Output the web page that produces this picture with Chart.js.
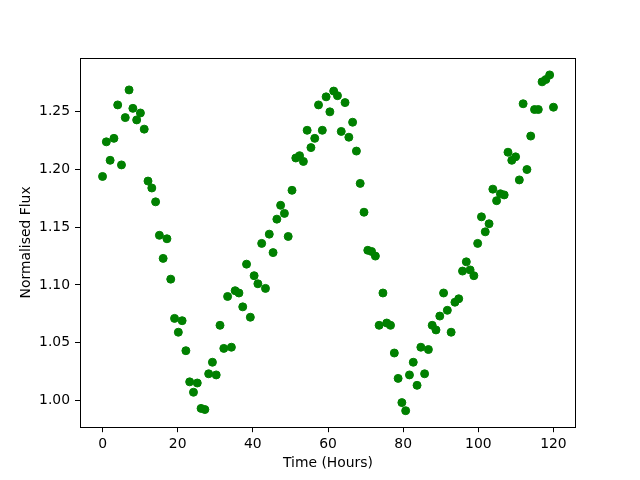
<!DOCTYPE html>
<html>
<head>
<meta charset="utf-8">
<script src="https://cdn.jsdelivr.net/npm/chart.js@4/dist/chart.umd.min.js"></script>
<style>
    body { margin: 0; background: #fff; }
    #myChart { display: block; }
</style>
</head>
<body>
<canvas id="myChart" width="640" height="480"></canvas>
<script>

// time of each observation (hours)
const hours = [
    0, 1.01, 2.02, 3.03, 4.03, 5.04, 6.05, 7.06, 8.07, 9.08,
    10.08, 11.09, 12.10, 13.11, 14.12, 15.13, 16.13, 17.14, 18.15, 19.16,
    20.17, 21.18, 22.18, 23.19, 24.20, 25.21, 26.22, 27.23, 28.24, 29.24,
    30.25, 31.26, 32.27, 33.28, 34.29, 35.29, 36.30, 37.31, 38.32, 39.33,
    40.34, 41.34, 42.35, 43.36, 44.37, 45.38, 46.39, 47.39, 48.40, 49.41,
    50.42, 51.43, 52.44, 53.45, 54.45, 55.46, 56.47, 57.48, 58.49, 59.50,
    60.50, 61.51, 62.52, 63.53, 64.54, 65.55, 66.55, 67.56, 68.57, 69.58,
    70.59, 71.60, 72.61, 73.61, 74.62, 75.63, 76.64, 77.65, 78.66, 79.66,
    80.67, 81.68, 82.69, 83.70, 84.71, 85.71, 86.72, 87.73, 88.74, 89.75,
    90.76, 91.76, 92.77, 93.78, 94.79, 95.80, 96.81, 97.82, 98.82, 99.83,
    100.84, 101.85, 102.86, 103.87, 104.87, 105.88, 106.89, 107.90, 108.91, 109.92,
    110.92, 111.93, 112.94, 113.95, 114.96, 115.97, 116.97, 117.98, 118.99, 120.00
];

// normalised flux readings
const flux = [
    1.194, 1.224, 1.208, 1.227, 1.256, 1.204, 1.245, 1.269, 1.253, 1.243,
    1.249, 1.235, 1.190, 1.184, 1.172, 1.143, 1.123, 1.140, 1.105, 1.071,
    1.059, 1.069, 1.043, 1.016, 1.007, 1.015, 0.993, 0.992, 1.023, 1.033,
    1.022, 1.065, 1.045, 1.090, 1.046, 1.095, 1.093, 1.081, 1.118, 1.072,
    1.108, 1.101, 1.136, 1.097, 1.144, 1.128, 1.157, 1.169, 1.162, 1.142,
    1.182, 1.210, 1.212, 1.207, 1.234, 1.219, 1.227, 1.256, 1.234, 1.263,
    1.250, 1.268, 1.264, 1.233, 1.258, 1.228, 1.241, 1.216, 1.188, 1.163,
    1.130, 1.129, 1.125, 1.065, 1.093, 1.067, 1.065, 1.041, 1.019, 0.998,
    0.991, 1.022, 1.033, 1.013, 1.046, 1.023, 1.044, 1.065, 1.061, 1.073,
    1.093, 1.078, 1.059, 1.085, 1.088, 1.112, 1.120, 1.113, 1.108, 1.136,
    1.159, 1.146, 1.153, 1.183, 1.173, 1.179, 1.178, 1.215, 1.208, 1.211,
    1.191, 1.257, 1.200, 1.229, 1.252, 1.252, 1.276, 1.278, 1.282, 1.254
];

const xTicks = [0, 20, 40, 60, 80, 100, 120];
const yTicks = [1.00, 1.05, 1.10, 1.15, 1.20, 1.25];

Chart.defaults.font.family = "'DejaVu Sans', sans-serif";
Chart.defaults.font.size = 13.9;
Chart.defaults.color = "#000";

const points = hours.map((h, i) => ({ x: h, y: flux[i] }));

// matplotlib-like frame on all four sides
const framePlugin = {
    id: "frame",
    afterDraw(chart) {
        const { ctx, chartArea: a } = chart;
        ctx.save();
        ctx.strokeStyle = "#000";
        ctx.lineWidth = 1;
        ctx.strokeRect(Math.round(a.left) + 0.5, Math.round(a.top) + 0.5,
            Math.round(a.right - a.left) - 1, Math.round(a.bottom - a.top) - 1);
        ctx.restore();
    }
};

const ctx = document.getElementById("myChart");

const chart = new Chart(ctx, {

    type: "scatter",

    data: {
        datasets: [{
            data: points,
            backgroundColor: "#008000",
            borderColor: "#008000",
            borderWidth: 1,
            pointRadius: 4,
            pointHoverRadius: 4
        }]
    },

    options: {

        responsive: false,
        animation: false,
        events: [],

        layout: {
            padding: { top: 57.6, right: 64, bottom: 0, left: 0 }
        },

        plugins: {
            legend: { display: false },
            tooltip: { enabled: false }
        },

        scales: {

            x: {
                type: "linear",
                min: -6,
                max: 126,
                afterFit: s => { s.height = 52.8; },
                afterBuildTicks: s => { s.ticks = xTicks.map(v => ({ value: v })); },
                grid: {
                    drawOnChartArea: false,
                    drawTicks: true,
                    tickLength: 5,
                    tickColor: "#000"
                },
                border: { display: false },
                ticks: {
                    padding: 4,
                    maxRotation: 0,
                    callback: v => String(v)
                },
                title: {
                    display: true,
                    text: "Time (Hours)",
                    padding: { top: 0, bottom: 8 }
                }
            },

            y: {
                type: "linear",
                min: 0.9767,
                max: 1.297,
                afterFit: s => { s.width = 80; },
                afterBuildTicks: s => { s.ticks = yTicks.map(v => ({ value: v })); },
                grid: {
                    drawOnChartArea: false,
                    drawTicks: true,
                    tickLength: 5,
                    tickColor: "#000"
                },
                border: { display: false },
                ticks: {
                    padding: 5,
                    callback: v => Number(v).toFixed(2)
                },
                title: {
                    display: true,
                    text: "Normalised Flux",
                    padding: { top: 18, bottom: 0 }
                }
            }
        }
    },

    plugins: [framePlugin]
});

</script>
</body>
</html>
